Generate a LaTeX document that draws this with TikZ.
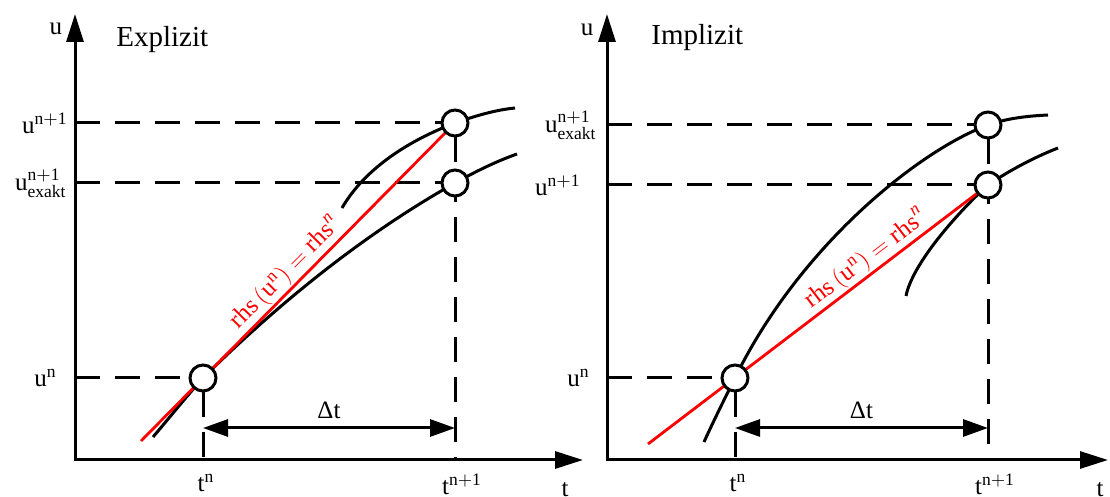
\documentclass[tikz,border=0pt]{standalone}
\usepackage{fontspec}
\setmainfont{Liberation Serif}
\usetikzlibrary{arrows.meta,backgrounds}
\begin{document}
\begin{tikzpicture}[x=0.5pt,y=-0.5pt,
  every node/.style={font=\fontsize{12.5}{14}\selectfont,inner sep=1pt},
  axis/.style={line width=1.5pt,{Triangle[length=14pt,width=8.5pt]}-{Triangle[length=14pt,width=8.5pt]}},
  guide/.style={line width=1.5pt,dash pattern=on 12.5pt off 7.5pt},
  curve/.style={line width=1.5pt},
  tangent/.style={line width=1.4pt,red},
  dot/.style={circle,draw,line width=1.5pt,fill=white,minimum size=13pt,inner sep=0pt},
  span/.style={line width=1.5pt,{Triangle[length=12.5pt,width=8.5pt]}-{Triangle[length=12.5pt,width=8.5pt]}},
  title/.style={font=\fontsize{14.5}{17}\selectfont,anchor=base west}]
  \useasboundingbox (0,0) rectangle (1110,497);
  % Explizit
  \coordinate (lo) at (75,460);
  \coordinate (ly) at (75,14);
  \coordinate (lx) at (583,460);
  \coordinate (ls) at (141,441);
  \coordinate (ld) at (0,428);
  \node[dot] (ln) at (203,378) {};
  \node[dot] (lu) at (455,123) {};
  \node[dot] (le) at (455,183) {};
  \draw[axis] (ly) -- (lo) -- (lx);
  \node (luax) at (56,29) {u};
  \node (ltax) [anchor=north] at (565,480) {t};
  \node[title] (ltitle) at (114,47) {Explizit};
  \node[left=2.5pt] (llu) at (lo |- lu) {$\mathrm{u}^{\mathrm{n+1}}$};
  \node[left=3pt] (lle) at (lo |- le) {$\mathrm{u}^{\mathrm{n+1}}_{\mathrm{exakt}}$};
  \node[left=8pt] (lln) at (lo |- ln) {$\mathrm{u}^{\mathrm{n}}$};
  \node[below=6pt,xshift=1.5pt] (ltn) at (lo -| ln) {$\mathrm{t}^{\mathrm{n}}$};
  \node[below=6pt,xshift=3.5pt] (ltu) at (lo -| lu) {$\mathrm{t}^{\mathrm{n+1}}$};
  \draw[span] (ln |- ld) -- (lu |- ld) node[midway,above=3pt] (ldt) {Δt};
  \path (ln) -- (lu) node[pos=0.36,sloped,above,text=red] (lrhs) {$\mathrm{rhs}\,\bigl(\mathrm{u}^{\mathrm{n}}\bigr) = \mathrm{rhs}^{\mathit{n}}$};
  \begin{scope}[on background layer]
    \draw[guide] (lo |- lu) -- (lu);
    \draw[guide] (lo |- le) -- (le);
    \draw[guide] (lo |- ln) -- (ln);
    \draw[guide] (ln) -- (lo -| ln);
    \draw[guide] (lu) -- (lo -| lu);
    \draw[curve] (153,437) .. controls (170,417) and (186,397) .. (ln.center) .. controls (290,292) and (375,228) .. (le.center) .. controls (480,169) and (500,160) .. (517,154);
    \draw[curve] (342,208) .. controls (365,168) and (410,140) .. (lu.center) .. controls (475,116) and (495,110) .. (515,108);
    \draw[tangent] (ls) -- (lu.center);
  \end{scope}
  % Implizit
  \coordinate (ro) at (607,460);
  \coordinate (ry) at (607,14);
  \coordinate (rx) at (1108,460);
  \coordinate (rs) at (648,444);
  \coordinate (rd) at (0,428);
  \node[dot] (rn) at (735,378) {};
  \node[dot] (re) at (988,125) {};
  \node[dot] (ru) at (988,185) {};
  \draw[axis] (ry) -- (ro) -- (rx);
  \node (ruax) at (587,30) {u};
  \node (rtax) [anchor=north] at (1100,480) {t};
  \node[title] (rtitle) at (649,45) {Implizit};
  \node[left=4pt] (rle) at (ro |- re) {$\mathrm{u}^{\mathrm{n+1}}_{\mathrm{exakt}}$};
  \node[left=12pt] (rlu) at (ro |- ru) {$\mathrm{u}^{\mathrm{n+1}}$};
  \node[left=7.5pt] (rln) at (ro |- rn) {$\mathrm{u}^{\mathrm{n}}$};
  \node[below=6pt,xshift=1.5pt] (rtn) at (ro -| rn) {$\mathrm{t}^{\mathrm{n}}$};
  \node[below=6pt,xshift=3.5pt] (rtu) at (ro -| ru) {$\mathrm{t}^{\mathrm{n+1}}$};
  \draw[span] (rn |- rd) -- (ru |- rd) node[midway,above=3pt] (rdt) {Δt};
  \path (rn) -- (ru) node[pos=0.56,sloped,above,text=red] (rrhs) {$\mathrm{rhs}\,\bigl(\mathrm{u}^{\mathrm{n}}\bigr) = \mathrm{rhs}^{\mathit{n}}$};
  \begin{scope}[on background layer]
    \draw[guide] (ro |- re) -- (re);
    \draw[guide] (ro |- ru) -- (ru);
    \draw[guide] (ro |- rn) -- (rn);
    \draw[guide] (rn) -- (ro -| rn);
    \draw[guide] (re) -- (ro -| re);
    \draw[curve] (704,442) .. controls (714,420) and (724,400) .. (rn.center) .. controls (800,245) and (920,150) .. (re.center) .. controls (1008,118) and (1028,116) .. (1048,115);
    \draw[curve] (906,296) .. controls (912,265) and (955,215) .. (ru.center) .. controls (1010,170) and (1035,157) .. (1058,148);
    \draw[tangent] (rs) -- (ru.center);
  \end{scope}
\end{tikzpicture}
\end{document}
